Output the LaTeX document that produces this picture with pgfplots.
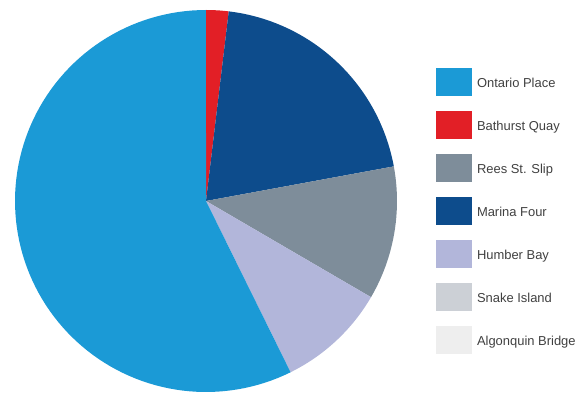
\documentclass[border=0pt]{standalone}
\usepackage{pgfplots}
\pgfplotsset{compat=1.18}
\usepackage{fontspec}
\setmainfont{Liberation Sans}
\definecolor{cOntario}{HTML}{1B9AD6}
\definecolor{cBathurst}{HTML}{E21F26}
\definecolor{cRees}{HTML}{7E8D9A}
\definecolor{cMarina}{HTML}{0D4C8C}
\definecolor{cHumber}{HTML}{B2B6DA}
\definecolor{cSnake}{HTML}{CCD0D6}
\definecolor{cAlgonquin}{HTML}{EEEEEE}
\begin{document}
\begin{tikzpicture}
\begin{axis}[
  scale only axis, width=588bp, height=395bp,
  xmin=0, xmax=588, ymin=0, ymax=395,
  hide axis, clip=false,
  legend style={at={(axis cs:436,327)}, anchor=north west, draw=none, fill=none,
    inner sep=0pt, outer sep=0pt,
    font=\fontsize{13}{14}\selectfont, text=black!75,
    row sep=15bp, nodes={inner sep=0pt},
    /tikz/every odd column/.append style={column sep=5bp}},
  legend cell align=left,
  legend image code/.code={\fill[#1, draw=none] (0bp,-12.5bp) rectangle (36bp,15.5bp);},
]
\path (axis cs:0,0) rectangle (axis cs:588,395);
% pie slices: percentages, cumulative from 12 o'clock clockwise
\addplot[fill=cBathurst, draw=none, domain=0:1.9, samples=6, forget plot]
  ({206+191*sin(3.6*x)},{194+191*cos(3.6*x)}) -- (axis cs:206,194) -- cycle;
\addplot[fill=cMarina, draw=none, domain=1.9:22.1, samples=40, forget plot]
  ({206+191*sin(3.6*x)},{194+191*cos(3.6*x)}) -- (axis cs:206,194) -- cycle;
\addplot[fill=cRees, draw=none, domain=22.1:33.4, samples=25, forget plot]
  ({206+191*sin(3.6*x)},{194+191*cos(3.6*x)}) -- (axis cs:206,194) -- cycle;
\addplot[fill=cHumber, draw=none, domain=33.4:42.7, samples=20, forget plot]
  ({206+191*sin(3.6*x)},{194+191*cos(3.6*x)}) -- (axis cs:206,194) -- cycle;
\addplot[fill=cOntario, draw=none, domain=42.7:100, samples=100, forget plot]
  ({206+191*sin(3.6*x)},{194+191*cos(3.6*x)}) -- (axis cs:206,194) -- cycle;
% legend
\addlegendimage{fill=cOntario, draw=none}\addlegendentry{Ontario Place}
\addlegendimage{fill=cBathurst, draw=none}\addlegendentry{Bathurst Quay}
\addlegendimage{fill=cRees, draw=none}\addlegendentry{Rees St. Slip}
\addlegendimage{fill=cMarina, draw=none}\addlegendentry{Marina Four}
\addlegendimage{fill=cHumber, draw=none}\addlegendentry{Humber Bay}
\addlegendimage{fill=cSnake, draw=none}\addlegendentry{Snake Island}
\addlegendimage{fill=cAlgonquin, draw=none}\addlegendentry{Algonquin Bridge}
\end{axis}
\end{tikzpicture}
\end{document}
